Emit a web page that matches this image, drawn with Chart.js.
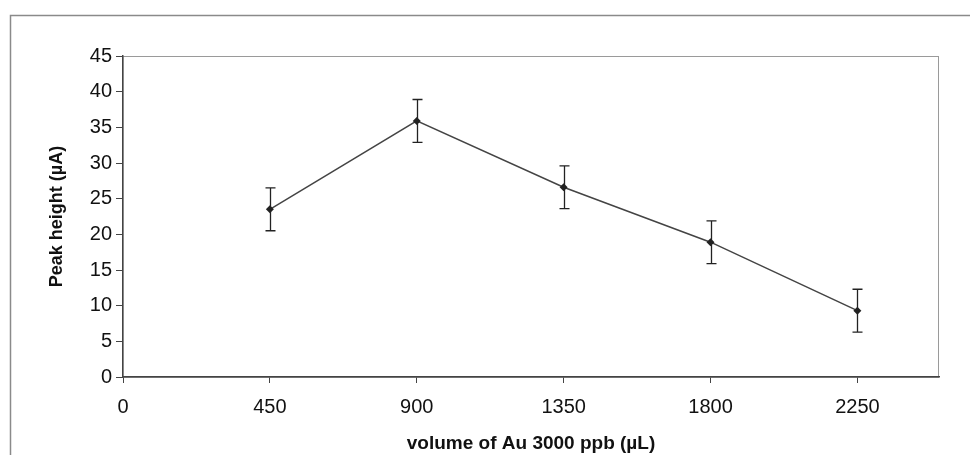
<!DOCTYPE html>
<html>
<head>
<meta charset="utf-8">
<script src="https://cdn.jsdelivr.net/npm/chart.js@4.4.1/dist/chart.umd.min.js"></script>
<style>
  html, body { margin: 0; padding: 0; background: #fff; }
  #wrap { width: 970px; height: 455px; position: relative; }
</style>
</head>
<body>
<div id="wrap"><canvas id="chart" width="970" height="455"></canvas></div>
<script>
// data
var volumes = [450, 900, 1350, 1800, 2250];
var peakHeights = [23.5, 35.9, 26.6, 18.9, 9.3];
var errors = [3.0, 3.0, 3.0, 3.0, 3.0];
var xTicks = [0, 450, 900, 1350, 1800, 2250];
var yTicks = [0, 5, 10, 15, 20, 25, 30, 35, 40, 45];

const FONT = "'Liberation Sans', Arial, sans-serif";

// outer frame + light plot border behind everything
var framePlugin = {
  id: 'frame',
  beforeDraw: function (chart) {
    var ctx = chart.ctx;
    var a = chart.chartArea;
    ctx.save();
    ctx.fillStyle = '#fff';
    ctx.fillRect(0, 0, chart.width, chart.height);
    ctx.strokeStyle = '#8a8a8a';
    ctx.lineWidth = 1.5;
    ctx.beginPath();
    ctx.moveTo(10.5, chart.height);
    ctx.lineTo(10.5, 15.5);
    ctx.lineTo(chart.width, 15.5);
    ctx.stroke();
    ctx.strokeStyle = '#9a9a9a';
    ctx.lineWidth = 1;
    ctx.strokeRect(a.left, a.top + 0.5, a.right - a.left - 0.5, a.bottom - a.top);
    ctx.restore();
  }
};

// vertical error bars from the error array
var errorBarPlugin = {
  id: 'errorBars',
  afterDatasetsDraw: function (chart) {
    var ctx = chart.ctx;
    var xs = chart.scales.x;
    var ys = chart.scales.y;
    ctx.save();
    ctx.strokeStyle = '#222';
    ctx.lineWidth = 1.3;
    for (var i = 0; i < volumes.length; i++) {
      var px = Math.round(xs.getPixelForValue(volumes[i])) + 0.5;
      var top = ys.getPixelForValue(peakHeights[i] + errors[i]);
      var bot = ys.getPixelForValue(peakHeights[i] - errors[i]);
      ctx.beginPath();
      ctx.moveTo(px, top);
      ctx.lineTo(px, bot);
      ctx.moveTo(px - 5, top);
      ctx.lineTo(px + 5, top);
      ctx.moveTo(px - 5, bot);
      ctx.lineTo(px + 5, bot);
      ctx.stroke();
    }
    ctx.restore();
  }
};

var points = volumes.map(function (v, i) {
  return { x: v, y: peakHeights[i] };
});

new Chart(document.getElementById('chart'), {
  type: 'scatter',
  data: {
    datasets: [{
      data: points,
      showLine: true,
      borderColor: '#444',
      borderWidth: 1.5,
      pointStyle: 'rectRot',
      pointRadius: 4,
      pointBackgroundColor: '#222',
      pointBorderColor: '#222',
      pointBorderWidth: 0
    }]
  },
  options: {
    responsive: false,
    animation: false,
    events: [],
    layout: { padding: { left: 0, top: 56, right: 31, bottom: 0 } },
    plugins: {
      legend: { display: false },
      tooltip: { enabled: false }
    },
    scales: {
      x: {
        type: 'linear',
        min: 0,
        max: 2500,
        afterBuildTicks: function (s) {
          s.ticks = xTicks.map(function (v) { return { value: v }; });
        },
        afterFit: function (s) { s.height = 78; },
        grid: { drawOnChartArea: false, tickLength: 6, color: '#444', tickWidth: 1 },
        border: { color: '#444', width: 1.5 },
        ticks: {
          color: '#111', padding: 12, maxRotation: 0,
          font: { family: FONT, size: 20 },
          callback: function (v) { return String(v); }
        },
        title: {
          display: true,
          text: 'volume of Au 3000 ppb (µL)',
          color: '#111',
          padding: { bottom: 0 },
          font: { family: FONT, size: 19, weight: 'bold' }
        }
      },
      y: {
        min: 0,
        max: 45,
        afterBuildTicks: function (s) {
          s.ticks = yTicks.map(function (v) { return { value: v }; });
        },
        afterFit: function (s) { s.width = 123; },
        grid: { drawOnChartArea: false, tickLength: 7, color: '#444', tickWidth: 1 },
        border: { color: '#444', width: 1.5 },
        ticks: {
          color: '#111', padding: 4,
          font: { family: FONT, size: 20 },
          callback: function (v) { return String(v); }
        },
        title: {
          display: true,
          text: 'Peak height (µA)',
          color: '#111',
          padding: { top: 46 },
          font: { family: FONT, size: 18, weight: 'bold' }
        }
      }
    }
  },
  plugins: [framePlugin, errorBarPlugin]
});
</script>
</body>
</html>
